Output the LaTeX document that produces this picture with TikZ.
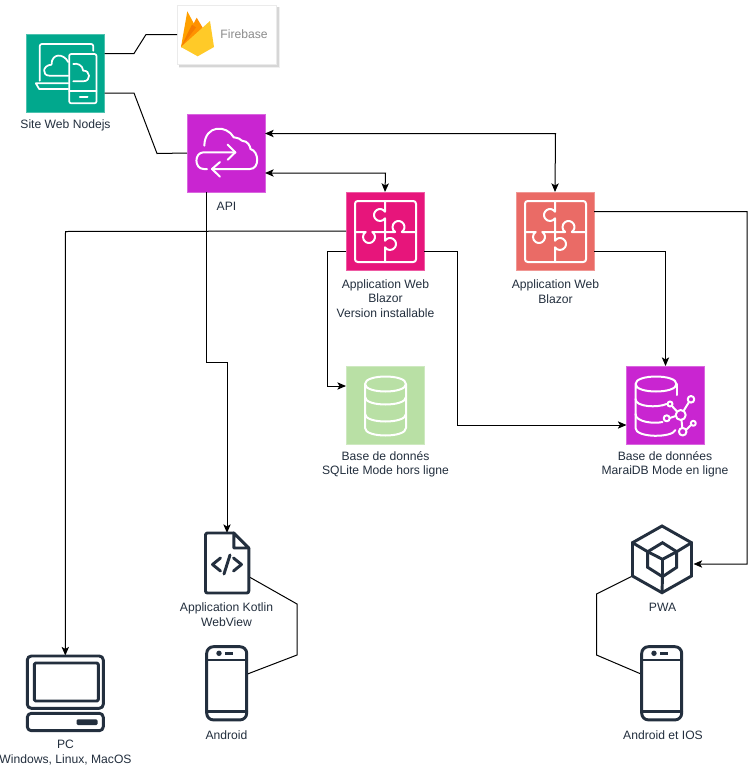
\documentclass[tikz,border=0pt]{standalone}
\usepackage{fontspec}
\setmainfont{Liberation Sans}
\usetikzlibrary{arrows.meta,calc}
\definecolor{ink}{HTML}{232F3E}
\definecolor{cGreen}{HTML}{01A88D}
\definecolor{cPurple}{HTML}{C925D1}
\definecolor{cPink}{HTML}{E7157B}
\definecolor{cSalmon}{HTML}{EA6B66}
\definecolor{cMint}{HTML}{B9E0A5}
\definecolor{fireA}{HTML}{FFA000}
\definecolor{fireB}{HTML}{F57C00}
\definecolor{fireC}{HTML}{FFCA28}
\definecolor{fireD}{HTML}{FF9100}
\tikzset{
  x=0.75pt,y=-0.75pt,
  box/.style={draw=#1!70!white,line width=0.5pt,fill=#1,minimum size=58.5pt,inner sep=0pt,outer sep=0pt},
  area/.style 2 args={minimum width=#1*0.75pt,minimum height=#2*0.75pt,inner sep=0pt,outer sep=0pt},
  txt/.style={font=\fontsize{9.1}{10.9}\selectfont,text=ink,align=center,inner sep=0pt},
  link/.style={draw=black,line width=0.75pt,line join=miter},
  arr/.style={link,-{Stealth[length=6.5pt,width=5.5pt,inset=1.6pt]}},
  both/.style={link,{Stealth[length=6.5pt,width=5.5pt,inset=1.6pt]}-{Stealth[length=6.5pt,width=5.5pt,inset=1.6pt]}},
  wl/.style={draw=white,line width=1.5pt,line cap=round,line join=round},
  dl/.style={draw=ink,line width=2.2pt,line cap=round,line join=round},
  puzzle/.pic={
    \draw[wl,rounded corners=2pt] (-30,-30) rectangle (31,31);
    \draw[wl] (0,-30) -- (0,-19.3) arc[start angle=-33.6,end angle=-326.4,radius=6] -- (0,1)
      -- (0,9.7) arc[start angle=-146.6,end angle=146.6,radius=6] -- (0,31);
    \draw[wl] (31,1) -- (16.8,1) arc[start angle=56.4,end angle=-236.4,radius=6] -- (0,1)
      -- (-12.7,1) arc[start angle=-56.4,end angle=236.4,radius=6] -- (-30,1);
  },
  cyl/.pic={
    \draw[wl] (-20,-21) .. controls (-20,-31) and (21,-31) .. (21,-21)
      .. controls (21,-11) and (-20,-11) .. (-20,-21) -- (-20,23)
      .. controls (-20,33) and (21,33) .. (21,23) -- (21,-21);
    \draw[wl] (-20,-8) .. controls (-20,2) and (21,2) .. (21,-8);
    \draw[wl] (-20,9) .. controls (-20,19) and (21,19) .. (21,9);
  },
  netdb/.pic={
    \draw[wl] (-30,-21) .. controls (-30,-31) and (11,-31) .. (11,-21)
      .. controls (11,-11) and (-30,-11) .. (-30,-21) -- (-30,23)
      .. controls (-30,33) and (7,33) .. (10,25);
    \draw[wl] (11,-21) -- (11,-10);
    \draw[wl] (-30,-6) .. controls (-30,2) and (-8,3) .. (1,-1);
    \draw[wl] (-30,9) .. controls (-30,17) and (-12,19) .. (-3,17);
    \draw[wl] (15.2,10) circle[radius=5];
    \draw[wl] (25.5,-5.7) circle[radius=3.3];
    \draw[wl] (4.5,-1) circle[radius=2.5];
    \draw[wl] (1.2,13.3) circle[radius=3];
    \draw[wl] (17.2,26.7) circle[radius=3.8];
    \draw[wl] (27.8,18.3) circle[radius=2.5];
    \draw[wl] (18,6) -- (23.5,-3);
    \draw[wl] (6.5,1) -- (11.5,6.5);
    \draw[wl] (4.2,13) -- (10.2,11);
    \draw[wl] (16,15) -- (16.8,23);
    \draw[wl] (20.5,25) -- (25.5,20);
  },
  smartphone/.pic={
    \draw[dl,rounded corners=5pt] (-20,-36.6) rectangle (20,36.6);
    \draw[dl] (-20,-23.3) -- (20,-23.3);
    \draw[dl] (-20,28.4) -- (20,28.4);
    \fill[ink] (-7.7,-30) circle[radius=2.7];
    \draw[ink,line width=2pt] (-1.5,-30) -- (6.5,-30);
  },
  siteicon/.pic={
    \draw[wl,line width=1.3pt] (-25.7,7.7) -- (-25.7,-27) [rounded corners=1.5pt] -- (-25.7,-29) -- (27.7,-29) [sharp corners] -- (27.7,-22.3);
    \draw[wl,line width=1.3pt] (2.7,10.3) -- (-29.7,10.3) -- (-26.3,16) -- (2.7,16);
    \draw[wl,line width=1.3pt,rounded corners=1.5pt] (3.7,-19) rectangle (31,30.3);
    \draw[wl,line width=1.3pt] (3.7,17.7) -- (31,17.7);
    \draw[wl,line width=1.5pt] (14.3,24.3) -- (22,24.3);
    \draw[wl,line width=1.3pt] (2.7,2.7) -- (-16,2.7) .. controls (-24,2.7) and (-23,-8) .. (-14,-8.3)
      .. controls (-14,-20) and (-2,-20) .. (2.7,-11);
    \draw[wl,line width=1.3pt] (7.7,-9) .. controls (12,-10) and (17,-8) .. (17.7,-2.3)
      .. controls (25,-3) and (26,8.3) .. (17.7,8.3) -- (7.7,8.3);
  },
  apiicon/.pic={
    \draw[wl] (-21.7,-7.3) .. controls (-21,-29) and (1,-28) .. (7.7,-15.7)
      .. controls (12,-15) and (15,-14) .. (16,-12.3) .. controls (22,-12) and (24,-7) .. (24.5,-4)
      .. controls (33,-2) and (34,16) .. (24,16) -- (-14,16);
    \draw[wl] (9.3,-0.7) -- (-22.3,-0.7) .. controls (-32,-0.7) and (-32,16) .. (-22.3,16) -- (-19,16);
    \draw[wl] (1.7,-8.3) -- (9.3,-0.7) -- (1.7,6.7);
    \draw[wl] (-6,9) -- (-14,16) -- (-6,23.7);
  },
  pcicon/.pic={
    \draw[dl,rounded corners=3pt] (-38,-37) rectangle (38,15.3);
    \draw[dl,rounded corners=1pt] (-31,-30) rectangle (33,8);
    \draw[dl,rounded corners=3pt] (-38,20.3) rectangle (38,37.7);
    \fill[ink,rounded corners=1pt] (11.3,26.3) rectangle (32.3,32);
  },
  docicon/.pic={
    \draw[dl,rounded corners=1.5pt] (6.8,-30) -- (-21.5,-30) -- (-21.5,30) -- (21.8,30) -- (21.8,-15);
    \draw[dl] (6.8,-30) -- (21.8,-15) -- (6.8,-15) -- cycle;
    \draw[dl] (-6.5,-5) -- (-14.5,1.5) -- (-6.5,8);
    \draw[dl] (6.5,-5) -- (14.5,1.5) -- (6.5,8);
    \draw[dl] (3,-8) -- (-3,11);
  },
  hexicon/.pic={
    \draw[dl,line join=miter] (0,-33.3) -- (29.5,-16.6) -- (29.5,16.7) -- (0,33.4) -- (-29.5,16.7) -- (-29.5,-16.6) -- cycle;
    \draw[dl,line join=miter] (0.5,-16.6) -- (14.7,-7.6) -- (14.7,8) -- (0.5,17.4) -- (-14.3,8) -- (-14.3,-7.6) -- cycle;
    \draw[dl] (-14.3,-7.6) -- (0.5,0) -- (14.7,-7.6);
    \draw[dl] (0.5,0) -- (0.5,17.4);
    \draw[dl] (-29.5,-16.6) -- (-14.3,-7.6);
    \draw[dl] (29.5,-16.6) -- (14.7,-7.6);
    \draw[dl] (0,33.4) -- (0.5,17.4);
  }
}
\begin{document}
\begin{tikzpicture}
\path[use as bounding box,fill=white] (0,0) rectangle (755,768);

% firebase card shadow
\fill[black!6] (179,7) rectangle (279.5,68);
\fill[black!16] (179,7) rectangle (278.5,66.5);

\node[box=cGreen] (site) at (65.5,73) {};
\node[draw=black!8,line width=0.6pt,fill=white,area={99}{59}] (firebase) at (226.5,34.5) {};
\node[box=cPurple] (api) at (226,153) {};
\node[box=cPink] (app1) at (385,231) {};
\node[box=cSalmon] (app2) at (555,231) {};
\node[box=cMint] (sqlite) at (385,405) {};
\node[box=cPurple] (maria) at (665.5,405) {};
\node[area={43}{60}] (doc) at (227,563) {};
\node[area={40}{73}] (phoneA) at (226.7,683.3) {};
\node[area={59}{67}] (pwa) at (662,559.3) {};
\node[area={40}{73}] (phoneB) at (661.7,683.3) {};
\node[area={76}{75}] (pc) at (65.3,693) {};

\draw[link] ($(site.east)+(0,-19.5)$) -- (134,53.5) -- (146,34.5) -- (firebase.west);
\draw[link] ($(site.east)+(0,20)$) -- (134,93) -- (157,153.5) -- (api.west);
\draw[both] ($(api.east)+(0,-19.5)$) -- (555.5,133.5) -- (app2.north);
\draw[both] ($(api.east)+(0,20)$) -- (385.5,173) -- (app1.north);
\draw[arr] ($(api.south)+(-19.5,0)$) -- (206.5,362.5) -- (227,362.5) -- (doc.north);
\draw[arr] (app1.west) -- (65.5,231.5) -- (pc.north);
\draw[arr] ($(app1.west)+(0,20)$) -- (327,251) -- (327,386) -- ($(sqlite.west)+(0,-19)$);
\draw[arr] ($(app1.east)+(0,20)$) -- (457,251) -- (457,425) -- ($(maria.west)+(0,20)$);
\draw[arr] ($(app2.east)+(0,-19.5)$) -- (747,211.5) -- (747,564) -- ($(pwa.east)+(2,4.7)$);
\draw[arr] ($(app2.east)+(0,20)$) -- (665.5,251) -- (maria.north);
\draw[link] ($(doc.east)+(0,13.5)$) -- (297,604) -- (297,655) -- ($(phoneA.east)+(0,-9)$);
\draw[link] ($(pwa.west)+(0,16.7)$) -- (596.5,594) -- (596.5,655) -- ($(phoneB.west)+(0,-9)$);

% icons
\pic at (site) {siteicon};
\pic at (api) {apiicon};
\pic at (app1) {puzzle};
\pic at (app2) {puzzle};
\pic at (sqlite) {cyl};
\pic at (maria) {netdb};
\pic at (doc) {docicon};
\pic at (phoneA) {smartphone};
\pic at (phoneB) {smartphone};
\pic at (pwa) {hexicon};
\pic at (pc) {pcicon};

% firebase flame
\fill[fireA] (181,47) -- (187.3,11.3) -- (196,27.5) -- (190,47) -- cycle;
\fill[fireD] (181,47) -- (196.7,17.7) -- (203.5,29) -- (190,47) -- cycle;
\fill[fireB] (181,47) -- (192,24.5) -- (196,27.5) -- cycle;
\fill[fireC] (181,47) -- (210,21) -- (214,47) -- (197.7,56.3) -- cycle;
\node[font=\fontsize{9.1}{10.9}\selectfont,text=black!45,inner sep=0pt] (fbtext) at (244,34) {Firebase};

% labels
\node[txt] (lsite) at (65.5,125.5) {Site Web Nodejs};
\node[txt] (lapi) at (226.5,206) {API};
\node[txt] (lapp1) at (385.5,298.5) {Application Web\\Blazor\\Version installable};
\node[txt] (lapp2) at (555.5,291.5) {Application Web\\Blazor};
\node[txt] (lsql) at (385.5,464.5) {Base de donnés\\SQLite Mode hors ligne};
\node[txt] (lmaria) at (665,464.5) {Base de données\\MaraiDB Mode en ligne};
\node[txt] (ldoc) at (226.5,614.5) {Application Kotlin\\WebView};
\node[txt] (lphA) at (226.5,735) {Android};
\node[txt] (lpwa) at (662.5,607) {PWA};
\node[txt] (lphB) at (663,735) {Android et IOS};
\node[txt] (lpc) at (65.5,752.5) {PC\\Windows, Linux, MacOS};
\end{tikzpicture}
\end{document}
